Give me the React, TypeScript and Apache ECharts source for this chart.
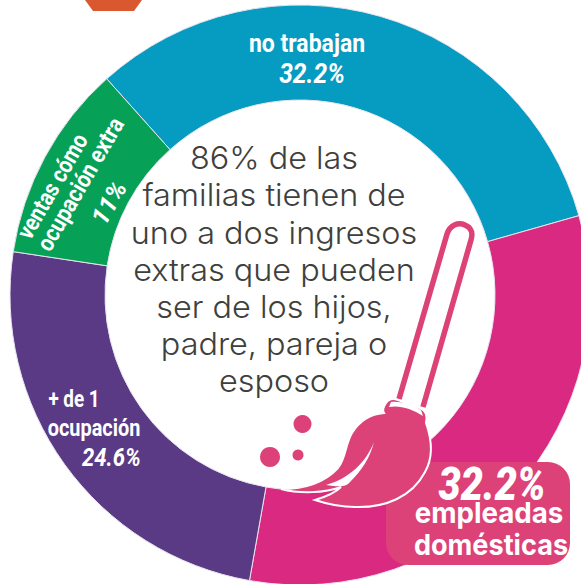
import React, { useEffect, useRef } from "react";
import * as echarts from "echarts";

const categories = ["no trabajan", "empleadas domésticas", "+ de 1 ocupación", "ventas cómo ocupación extra"];
const values = [32.2, 32.2, 24.6, 11];
const colors = ["#069bc0", "#da2981", "#5a3a85", "#06a157"];
const centerLines = ["86% de las", "familias tienen de", "uno a dos ingresos", "extras que pueden", "ser de los hijos,", "padre, pareja o", "esposo"];

const BRUSH = "#dc4277";
const HAND = "Roboto, sans-serif";
const GOTHIC = "Inter, sans-serif";

const headPath =
  "M386 403 C388 399 393 398 398 400 L420 408 C425 410 428 414 426 423 C432 440 433 458 425 472 C412 497 385 508 355 507 C340 507 327 504 315 500 C325 497 335 493 341 487 C325 493 300 494 281 489 C305 489 325 482 338 468 C346 458 345 445 352 433 C360 420 372 414 384 413 C382 410 384 406 386 403 Z";
const slitPath = "M374 442 C366 462 350 478 326 485 C340 487 346 487 350 482 C362 470 370 458 374 442 Z";
const handlePath =
  "M399 399 L447 234 C450 225 458 222 465 225 C472 228 473 233 471 240 L423 407";
const ferrulePath = "M389 407 C400 405 412 409 423 416 L421 410 C411 404 400 401 391 402 Z";

echarts.graphic.registerShape("brushHead", echarts.graphic.extendPath(headPath, {}));
echarts.graphic.registerShape("brushSlit", echarts.graphic.extendPath(slitPath, {}));
echarts.graphic.registerShape("brushHandle", echarts.graphic.extendPath(handlePath, {}));
echarts.graphic.registerShape("brushFerrule", echarts.graphic.extendPath(ferrulePath, {}));

function label(text: string, x: number, y: number, size: number, opts: any = {}) {
  return {
    type: "text",
    x,
    y,
    rotation: opts.rotation ?? 0,
    scaleX: opts.scaleX ?? 1,
    z: 10,
    style: {
      text,
      fill: opts.fill ?? "#ffffff",
      font: `${opts.style ?? "normal"} ${opts.weight ?? 700} ${size}px ${opts.family ?? HAND}`,
      textAlign: "center",
      textVerticalAlign: "middle",
    },
  };
}

export default function App() {
  const ref = useRef<HTMLDivElement>(null);
  useEffect(() => {
    const chart = echarts.init(ref.current!, undefined, { renderer: "svg" });
    const slant = (60 * Math.PI) / 180;
    chart.setOption({
      animation: false,
      backgroundColor: "#ffffff",
      series: [
        {
          type: "pie",
          center: [300, 295],
          radius: [195, 290],
          startAngle: 131.8,
          clockwise: true,
          silent: true,
          label: { show: false },
          labelLine: { show: false },
          itemStyle: { borderColor: "#e8e4ee", borderWidth: 1 },
          data: categories.map((name, i) => ({ name, value: values[i], itemStyle: { color: colors[i] } })),
        },
      ],
      graphic: [
        { type: "polygon", z: 5, shape: { points: [[85, 0], [142, 0], [134, 11], [93, 11]] }, style: { fill: "#d9582f" } },
        { type: "rect", z: 6, shape: { x: 386, y: 462, width: 184, height: 103, r: 22 }, style: { fill: BRUSH } },
        ...centerLines.map((t, i) =>
          label(t, 274, 158 + i * 37.2, 31, { fill: "#3e403c", weight: 300, family: GOTHIC, scaleX: 1.045 })
        ),
        { type: "brushHandle", z: 7, style: { fill: "none", stroke: BRUSH, lineWidth: 5.5 } },
        { type: "brushHead", z: 8, style: { fill: BRUSH, stroke: "#ffffff", lineWidth: 2 } },
        { type: "brushSlit", z: 9, style: { fill: "#ffffff" } },
        { type: "brushFerrule", z: 9, style: { fill: "#ffffff" } },
        { type: "circle", z: 7, shape: { cx: 302.5, cy: 424, r: 9 }, style: { fill: BRUSH } },
        { type: "circle", z: 7, shape: { cx: 270, cy: 457, r: 10 }, style: { fill: BRUSH } },
        { type: "circle", z: 7, shape: { cx: 298, cy: 455, r: 5.5 }, style: { fill: BRUSH } },

        label("no trabajan", 307, 44, 25, { scaleX: 0.92 }),
        label(`${values[0]}%`, 312, 73, 28, { style: "italic", scaleX: 0.88 }),

        label("ventas cómo", 52, 186, 24, { rotation: slant, scaleX: 0.85 }),
        label("ocupación extra", 80, 184, 24, { rotation: slant, scaleX: 0.87 }),
        label(`${values[3]}%`, 109, 203, 25, { rotation: slant, style: "italic", scaleX: 1 }),

        label("+ de 1", 74, 399, 23, { scaleX: 0.82 }),
        label("ocupación", 94, 428, 24, { scaleX: 0.83 }),
        label(`${values[2]}%`, 111.5, 457, 26, { style: "italic", scaleX: 0.85 }),

        label(`${values[1]}%`, 492, 484, 46, { style: "italic", weight: 900, scaleX: 0.86 }),
        label("empleadas", 489, 513, 29, { family: GOTHIC, weight: 700, scaleX: 0.955 }),
        label("domésticas", 491, 545, 29, { family: GOTHIC, weight: 700, scaleX: 0.935 }),
      ],
    });
    return () => chart.dispose();
  }, []);
  return <div ref={ref} style={{ position: "fixed", left: 0, top: 0, width: 581, height: 584 }} />;
}
